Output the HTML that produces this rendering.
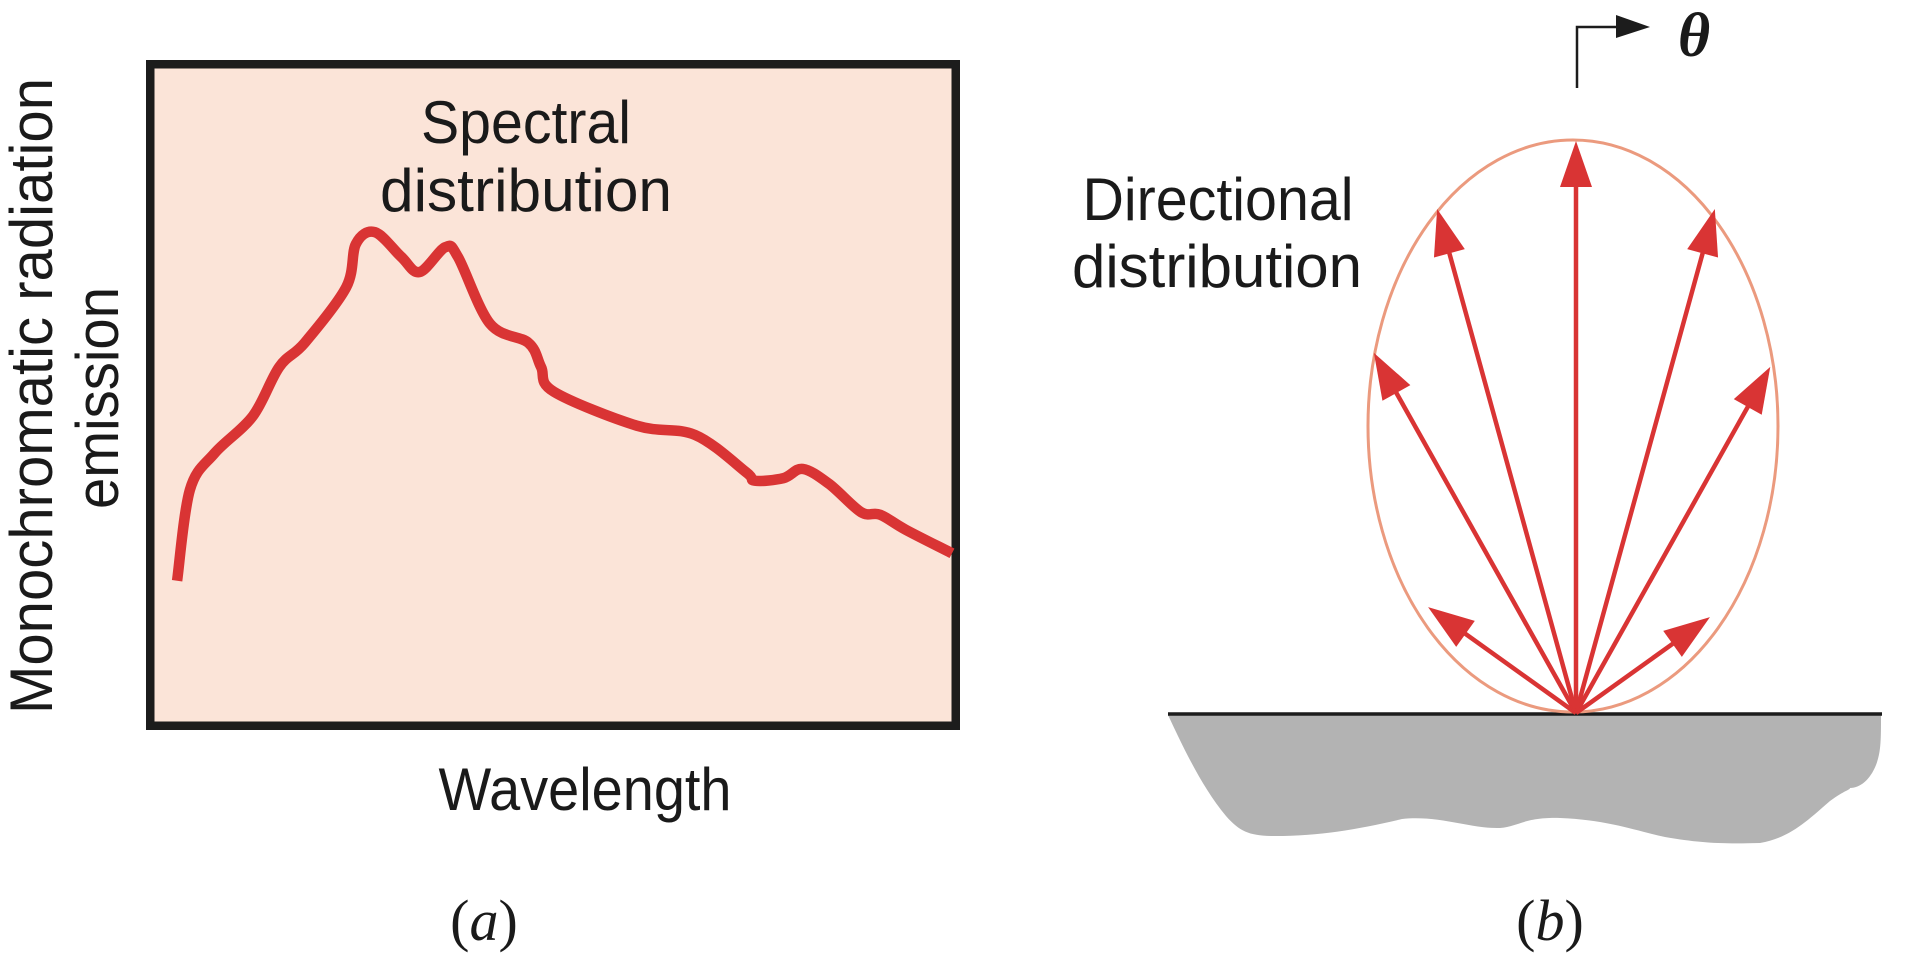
<!DOCTYPE html>
<html><head><meta charset="utf-8">
<style>
html,body{margin:0;padding:0;background:#fff;}
svg{display:block;}
text{font-family:"Liberation Sans",sans-serif;fill:#1a1a1a;}
</style></head>
<body>
<svg id="fig" width="1914" height="960" viewBox="0 0 1914 960" xmlns="http://www.w3.org/2000/svg">
  <g>
    <rect x="150.25" y="64.25" width="805.5" height="661.5" fill="#fbe4d8" stroke="#1c1c1c" stroke-width="8.5"/>
    <path id="spectrum" fill="none" stroke="#d93434" stroke-width="10.5" stroke-linejoin="round"/>
    <text x="526" y="143" font-size="60" text-anchor="middle" textLength="210" lengthAdjust="spacingAndGlyphs">Spectral</text>
    <text x="526" y="211" font-size="60" text-anchor="middle" textLength="292" lengthAdjust="spacingAndGlyphs">distribution</text>
    <text transform="translate(52,396) rotate(-90)" font-size="60" text-anchor="middle" textLength="636" lengthAdjust="spacingAndGlyphs">Monochromatic radiation</text>
    <text transform="translate(118,398) rotate(-90)" font-size="60" text-anchor="middle" textLength="222" lengthAdjust="spacingAndGlyphs">emission</text>
    <text x="585" y="810" font-size="60" text-anchor="middle" textLength="293" lengthAdjust="spacingAndGlyphs">Wavelength</text>
    <text x="484" y="940" font-size="58" text-anchor="middle" style="font-family:'Liberation Serif',serif">(<tspan font-style="italic">a</tspan>)</text>
  </g>
  <g>
    <path d="M1168,715 C1180,740 1200,785 1226,816 C1240,832 1250,836 1275,836 C1320,836 1360,829 1402,819 C1440,815 1470,829 1500,828 C1520,826 1525,817 1560,818 C1610,820 1640,832 1665,837 C1700,843 1720,844 1760,843 C1790,838 1808,820 1830,801 C1845,790 1850,790 1850,788 C1860,788 1870,780 1876,765 C1881,752 1881,740 1881,715 Z" fill="#b3b3b3"/>
    <line x1="1168" y1="714" x2="1882" y2="714" stroke="#1c1c1c" stroke-width="3.5"/>
    <ellipse cx="1573" cy="426" rx="205" ry="286" fill="none" stroke="#eb9a7e" stroke-width="3"/>
    <g id="arrows"></g>
    <text x="1218" y="220" font-size="60" text-anchor="middle" textLength="271" lengthAdjust="spacingAndGlyphs">Directional</text>
    <text x="1217" y="287" font-size="60" text-anchor="middle" textLength="290" lengthAdjust="spacingAndGlyphs">distribution</text>
    <path d="M1577,88 L1577,27 L1620,27" fill="none" stroke="#1c1c1c" stroke-width="2.5"/>
    <polygon points="1616,15 1650,27 1616,38" fill="#1c1c1c"/>
    <text x="1678" y="56" font-size="62" font-style="italic" font-weight="bold" style="font-family:'Liberation Serif',serif">θ</text>
    <text x="1550" y="940" font-size="58" text-anchor="middle" style="font-family:'Liberation Serif',serif">(<tspan font-style="italic">b</tspan>)</text>
  </g>
</svg>
<script>
// Spectral distribution data (wavelength 0-100, emission 0-100)
const wavelengths = [2.9,4.5,7.6,12.4,15.7,18.9,24.1,25.3,27.7,31.0,33.3,36.5,38.1,42.1,46.9,48.5,50.1,60.5,67.8,74.2,75.3,78.9,81.3,84.6,88.6,91.0,94.2,100];
const emission    = [21.6,35.5,41.1,46.8,54.3,58.0,66.5,73.1,74.9,71.1,68.8,72.6,71.1,60.9,58.0,54.3,50.5,45.3,43.9,38.2,36.9,37.3,38.7,36.4,32.1,31.7,29.4,25.8];
// Directional distribution: angles from surface normal (deg) and relative intensity
const arrowAngles = [-54.4,-29.3,-15.4,0,15.4,29.3,54.4];
const arrowIntensity = [0.318,0.722,0.914,1.0,0.914,0.694,0.288];

function xScale(v){return 154 + v*7.98;}
function yScale(v){return 722 - v*6.54;}

(function(){
  const pts = wavelengths.map((w,i)=>[xScale(w), yScale(emission[i])]);
  let d = 'M'+pts[0][0].toFixed(1)+','+pts[0][1].toFixed(1);
  for(let i=0;i<pts.length-1;i++){
    const p0=pts[Math.max(0,i-1)], p1=pts[i], p2=pts[i+1], p3=pts[Math.min(pts.length-1,i+2)];
    const c1=[p1[0]+(p2[0]-p0[0])/6, p1[1]+(p2[1]-p0[1])/6];
    const c2=[p2[0]-(p3[0]-p1[0])/6, p2[1]-(p3[1]-p1[1])/6];
    d += ' C'+c1[0].toFixed(1)+','+c1[1].toFixed(1)+' '+c2[0].toFixed(1)+','+c2[1].toFixed(1)+' '+p2[0].toFixed(1)+','+p2[1].toFixed(1);
  }
  document.getElementById('spectrum').setAttribute('d', d);

  const ns='http://www.w3.org/2000/svg';
  const g=document.getElementById('arrows');
  const ox=1576, oy=713, R=572, headL=46, headW=16;
  arrowAngles.forEach((a,i)=>{
    const r=a*Math.PI/180, L=R*arrowIntensity[i];
    const ux=Math.sin(r), uy=-Math.cos(r);
    const tx=ox+ux*L, ty=oy+uy*L;
    const bx=tx-ux*headL, by=ty-uy*headL;
    const line=document.createElementNS(ns,'line');
    line.setAttribute('x1',ox); line.setAttribute('y1',oy);
    line.setAttribute('x2',bx+ux*4); line.setAttribute('y2',by+uy*4);
    line.setAttribute('stroke','#d93434'); line.setAttribute('stroke-width','4.5');
    
    
    g.appendChild(line);
    const head=document.createElementNS(ns,'polygon');
    const px=-uy, py=ux;
    head.setAttribute('points', tx+','+ty+' '+(bx+px*headW)+','+(by+py*headW)+' '+(bx-px*headW)+','+(by-py*headW));
    head.setAttribute('fill','#d93434');
    
    
    g.appendChild(head);
  });
})();
</script>
</body></html>
